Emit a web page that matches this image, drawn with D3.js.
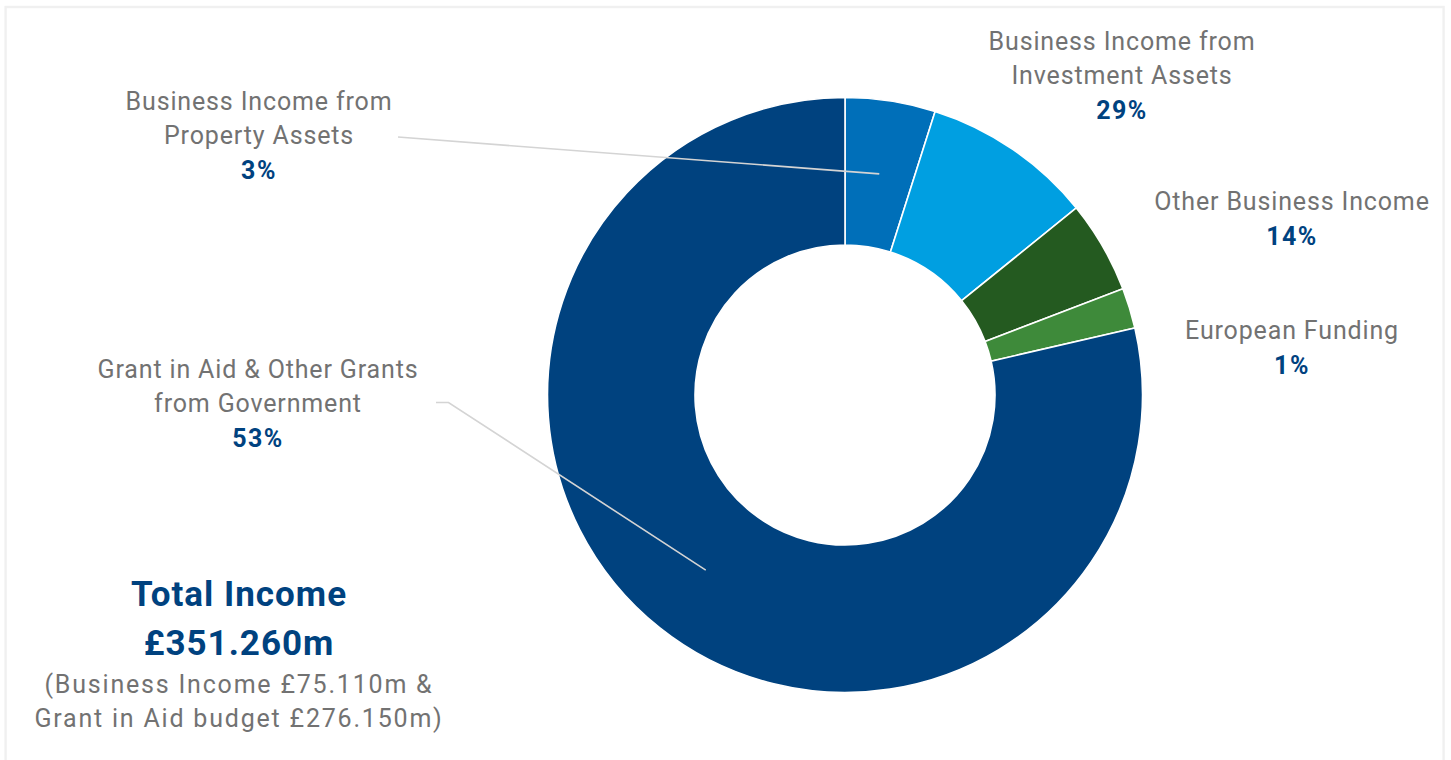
<!DOCTYPE html>
<html>
<head>
<meta charset="utf-8">
<script src="https://cdn.jsdelivr.net/npm/d3@7"></script>
<style>
    body { margin: 0; background: #fff; }
    svg { display: block; font-family: Roboto, "DejaVu Sans", sans-serif; }
</style>
</head>
<body>
<div id="chart"></div>
<script>
// slices in £m, clockwise from 12 o'clock
const categories = ["Property", "Investment", "Other", "European", "Grant"];
const values = [17.2, 32.6, 17.6, 7.7, 276.15];
const labelLines = [
    ["Business Income from", "Property Assets"],
    ["Business Income from", "Investment Assets"],
    ["Other Business Income"],
    ["European Funding"],
    ["Grant in Aid & Other Grants", "from Government"]
];
const percentLabels = ["3%", "29%", "14%", "1%", "53%"];
const totalTitle = ["Total Income", "£351.260m"];
const totalNote = ["(Business Income £75.110m &", "Grant in Aid budget £276.150m)"];

const width = 1451, height = 760;
const cx = 845, cy = 395;
const outerR = 297.5, innerR = 150;

const svg = d3.select("#chart").append("svg")
    .attr("width", width)
    .attr("height", height);

// light frame round the whole graphic
svg.append("rect")
    .attr("x", 5.6).attr("y", 7)
    .attr("width", 1438).attr("height", 780)
    .attr("fill", "none")
    .attr("stroke", "#f0f0f0")
    .attr("stroke-width", 2.4);

const colorScale = d3.scaleOrdinal()
    .domain(categories)
    .range(["#006fb9", "#009fe1", "#245a20", "#3e8a3a", "#00427f"]);

const data = categories.map((c, i) => ({category: c, value: values[i], lines: labelLines[i], pct: percentLabels[i]}));

const pie = d3.pie().sort(null).value(d => d.value);
const arc = d3.arc().innerRadius(innerR).outerRadius(outerR);
const arcs = pie(data);

const chart = svg.append("g")
    .attr("transform", `translate(${cx}, ${cy})`);

chart.selectAll("path")
    .data(arcs)
    .enter().append("path")
    .attr("d", arc)
    .attr("fill", d => colorScale(d.data.category))
    .attr("stroke", "#fff")
    .attr("stroke-width", 1.6);

// label placement: centre x and first baseline, plus leader line start (if any)
const labelPos = {
    Property:   {x: 259,  y: 110, leader: [[398, 137]]},
    Investment: {x: 1122, y: 50},
    Other:      {x: 1292, y: 210},
    European:   {x: 1292, y: 339},
    Grant:      {x: 258,  y: 378, leader: [[436, 402.5], [448.5, 402.5]]}
};
const lineGap = 34;

// leader lines to slice centroids
const leaders = arcs.filter(d => labelPos[d.data.category].leader);
svg.append("g")
    .attr("class", "leaders")
    .selectAll("polyline")
    .data(leaders)
    .enter().append("polyline")
    .attr("points", d => {
        const c = arc.centroid(d);
        const pts = labelPos[d.data.category].leader.concat([[c[0] + cx, c[1] + cy]]);
        return pts.map(p => p.join(",")).join(" ");
    })
    .attr("fill", "none")
    .attr("stroke", "#d4d4d4")
    .attr("stroke-width", 1.6);

const labels = svg.append("g")
    .attr("class", "labels")
    .selectAll("g")
    .data(data)
    .enter().append("g")
    .attr("transform", d => `translate(${labelPos[d.category].x}, ${labelPos[d.category].y})`);

labels.selectAll("text.name")
    .data(d => d.lines)
    .enter().append("text")
    .attr("class", "name")
    .attr("y", (d, i) => i * lineGap)
    .attr("text-anchor", "middle")
    .attr("font-size", "25px")
    .attr("letter-spacing", "0.85px")
    .attr("fill", "#727272")
    .text(d => d);

labels.append("text")
    .attr("y", d => d.lines.length * lineGap + 1)
    .attr("text-anchor", "middle")
    .attr("font-size", "25px")
    .attr("font-weight", "bold")
    .attr("letter-spacing", "1.5px")
    .attr("fill", "#00427f")
    .text(d => d.pct);

// total block bottom left
const total = svg.append("g")
    .attr("transform", "translate(239, 0)");

total.selectAll("text.title")
    .data(totalTitle)
    .enter().append("text")
    .attr("class", "title")
    .attr("y", (d, i) => 606 + i * 49)
    .attr("text-anchor", "middle")
    .attr("font-size", "35px")
    .attr("font-weight", "bold")
    .attr("letter-spacing", "1px")
    .attr("fill", "#00427f")
    .text(d => d);

total.selectAll("text.note")
    .data(totalNote)
    .enter().append("text")
    .attr("class", "note")
    .attr("y", (d, i) => 693 + i * 33.5)
    .attr("text-anchor", "middle")
    .attr("font-size", "25px")
    .attr("letter-spacing", "1.8px")
    .attr("fill", "#727272")
    .text(d => d);
</script>
</body>
</html>
